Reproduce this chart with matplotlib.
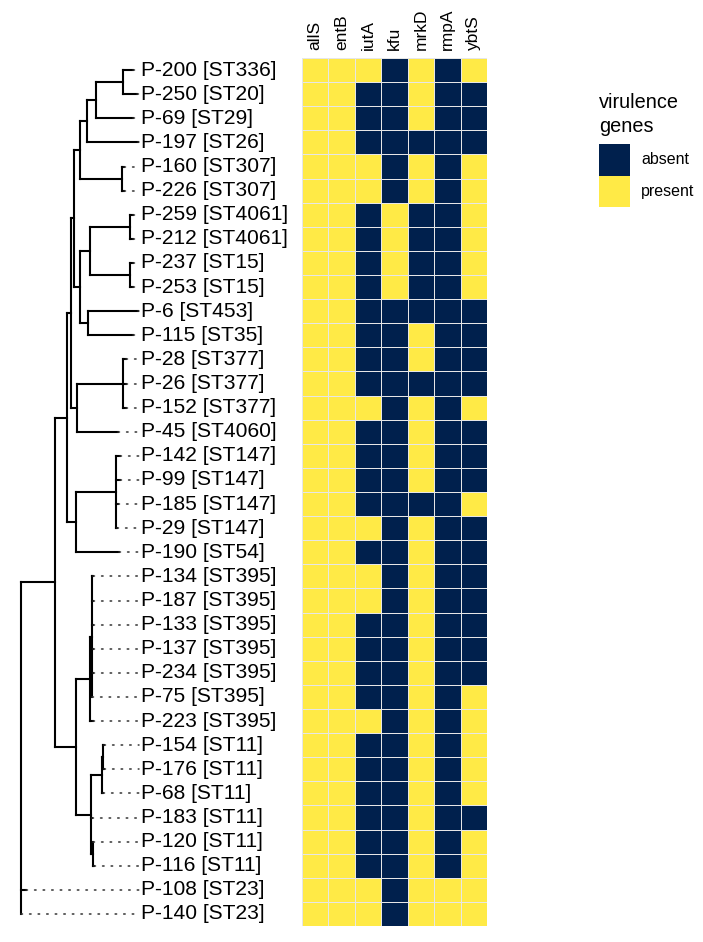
import matplotlib
matplotlib.use("Agg")
import matplotlib.pyplot as plt
import numpy as np
from matplotlib.collections import LineCollection
from matplotlib.colors import ListedColormap
from matplotlib.patches import Rectangle

plt.rcParams['font.family'] = ['Liberation Sans', 'DejaVu Sans']

# ---------------- data ----------------
# phylogeny (Newick, branch lengths in substitutions/site)
tree_newick = (
    "(((((((((P-200:0.0103,P-250:0.0143):0.0267,P-69:0.037):0.0093,P-197:0.0513):0.0067,"
    "(P-160:0.002,P-226:0.002):0.042):0.0057,"
    "(((P-259:0.003,P-212:0.003):0.040,(P-237:0.003,P-253:0.003):0.040):0.010,"
    "(P-6:0.0497,P-115:0.0447):0.0083):0.0057):0.0038,"
    "((P-28:0.003,P-26:0.003,P-152:0.003):0.046,P-45:0.041):0.0065):0.0035,"
    "((P-142:0.004,P-99:0.004,P-185:0.002,P-29:0.001):0.040,P-190:0.043):0.009):0.012,"
    "(((P-134:0.0015,P-187:0.0015,P-133:0.001,P-137:0.001,P-234:0.001,P-75:0.0005):0.0015,"
    "P-223:0.0025):0.0145,"
    "(((P-154:0.0015,P-176:0.0015):0.0008,P-68:0.0013):0.011,P-183:0.0013,"
    "(P-120:0.0005,P-116:0.001):0.0018):0.0152):0.0205):0.034,"
    "P-108:0.005,P-140:0.0005);"
)

isolates = ["P-200", "P-250", "P-69", "P-197", "P-160", "P-226", "P-259", "P-212",
            "P-237", "P-253", "P-6", "P-115", "P-28", "P-26", "P-152", "P-45",
            "P-142", "P-99", "P-185", "P-29", "P-190", "P-134", "P-187", "P-133",
            "P-137", "P-234", "P-75", "P-223", "P-154", "P-176", "P-68", "P-183",
            "P-120", "P-116", "P-108", "P-140"]
st_types = ["ST336", "ST20", "ST29", "ST26", "ST307", "ST307", "ST4061", "ST4061",
            "ST15", "ST15", "ST453", "ST35", "ST377", "ST377", "ST377", "ST4060",
            "ST147", "ST147", "ST147", "ST147", "ST54", "ST395", "ST395", "ST395",
            "ST395", "ST395", "ST395", "ST395", "ST11", "ST11", "ST11", "ST11",
            "ST11", "ST11", "ST23", "ST23"]

genes = ["allS", "entB", "iutA", "kfu", "mrkD", "rmpA", "ybtS"]
# 1 = present, 0 = absent (in isolate order above)
allS = [1] * 36
entB = [1] * 36
iutA = [1, 0, 0, 0, 1, 1, 0, 0, 0, 0, 0, 0, 0, 0, 1, 0, 0, 0, 0, 1, 0, 1, 1, 0,
        0, 0, 0, 1, 0, 0, 0, 0, 0, 0, 1, 1]
kfu = [0, 0, 0, 0, 0, 0, 1, 1, 1, 1, 0, 0, 0, 0, 0, 0, 0, 0, 0, 0, 0, 0, 0, 0,
       0, 0, 0, 0, 0, 0, 0, 0, 0, 0, 0, 0]
mrkD = [1, 1, 1, 0, 1, 1, 0, 0, 0, 0, 0, 1, 1, 0, 1, 1, 1, 1, 0, 1, 1, 1, 1, 1,
        1, 1, 1, 1, 1, 1, 1, 1, 1, 1, 1, 1]
rmpA = [0] * 34 + [1, 1]
ybtS = [1, 0, 0, 0, 1, 1, 1, 1, 1, 1, 0, 0, 0, 0, 1, 0, 0, 0, 1, 0, 0, 0, 0, 0,
        0, 0, 1, 1, 1, 1, 1, 0, 1, 1, 1, 1]
legend_title = ["virulence", "genes"]
legend_labels = ["absent", "present"]

# ---------------- styles ----------------
col_absent = "#00204D"
col_present = "#FFEA46"


def parse_newick(s):
    s = s.strip().rstrip(';')
    pos = 0

    def node():
        nonlocal pos
        n = {"children": [], "name": None, "length": 0.0}
        if s[pos] == '(':
            pos += 1
            while True:
                n["children"].append(node())
                if s[pos] == ',':
                    pos += 1
                else:
                    pos += 1
                    break
        start = pos
        while pos < len(s) and s[pos] not in ':,()':
            pos += 1
        n["name"] = s[start:pos] or None
        if pos < len(s) and s[pos] == ':':
            pos += 1
            start = pos
            while pos < len(s) and s[pos] not in ',()':
                pos += 1
            n["length"] = float(s[start:pos])
        return n
    return node()


root = parse_newick(tree_newick)
tips = []


def layout(n, x0):
    n["x"] = x0 + n["length"]
    if not n["children"]:
        tips.append(n)
        n["y"] = len(tips)
    else:
        for c in n["children"]:
            layout(c, n["x"])
        n["y"] = np.mean([c["y"] for c in n["children"]])


root["length"] = 0.0
layout(root, 0.0)

segs = []


def collect(n):
    if n["children"]:
        ys = [c["y"] for c in n["children"]]
        segs.append([(n["x"], min(ys)), (n["x"], max(ys))])
        for c in n["children"]:
            segs.append([(n["x"], c["y"]), (c["x"], c["y"])])
            collect(c)


collect(root)

n_tips = len(tips)
fig = plt.figure(figsize=(7.03, 9.42), dpi=100)
W, H = 703.0, 942.0
top_px, bot_px = 58.0, 926.0
ax_bottom = 1 - bot_px / H
ax_height = (bot_px - top_px) / H

# ---- tree ----
ax_t = fig.add_axes([0, ax_bottom, 300 / W, ax_height])
ax_t.add_collection(LineCollection(segs, colors="black", linewidths=1.5,
                                   capstyle="projecting"))
max_x = max(t["x"] for t in tips)
dot_end = max_x + 0.001
label_x = max_x + 0.0028
st_map = dict(zip(isolates, st_types))
for t in tips:
    if dot_end - t["x"] > 0.0005:
        ax_t.plot([t["x"], dot_end], [t["y"], t["y"]], color="#333333",
                  lw=1.1, linestyle=(0, (1, 4.6)), dash_capstyle="round")
    ax_t.text(label_x, t["y"], f"{t['name']} [{st_map[t['name']]}]",
              va="center", ha="left", fontsize=15.1)
ax_t.set_xlim(-0.021, 0.279)
ax_t.set_ylim(n_tips + 0.5, 0.5)
ax_t.axis("off")

# ---- heatmap ----
order = [t["name"] for t in tips]
idx = [isolates.index(nm) for nm in order]
mat = np.array([allS, entB, iutA, kfu, mrkD, rmpA, ybtS]).T[idx]
ax_h = fig.add_axes([302 / W, ax_bottom, 185 / W, ax_height])
cmap = ListedColormap([col_absent, col_present])
ax_h.pcolormesh(np.arange(len(genes) + 1), np.arange(n_tips + 1) + 0.5, mat,
                cmap=cmap, vmin=0, vmax=1, edgecolors="#e6e6e6", linewidth=0.6)
ax_h.set_xlim(0, len(genes))
ax_h.set_ylim(n_tips + 0.5, 0.5)
ax_h.xaxis.tick_top()
ax_h.set_xticks(np.arange(len(genes)) + 0.5)
ax_h.set_xticklabels(genes, rotation=90, fontsize=12.5)
ax_h.tick_params(axis="x", length=0, pad=6)
ax_h.set_yticks([])
for sp in ax_h.spines.values():
    sp.set_visible(False)

# ---- legend (manual) ----
ax_l = fig.add_axes([599 / W, 1 - 207 / H, 31 / W, 63 / H])
ax_l.set_xlim(0, 1)
ax_l.set_ylim(2, 0)
ax_l.axis("off")
for i, (lab, col) in enumerate(zip(legend_labels, [col_absent, col_present])):
    ax_l.add_patch(Rectangle((0, i), 1, 1, facecolor=col, edgecolor="none"))
    ax_l.text(1 + 11 / 31, i + 0.5, lab, va="center", ha="left", fontsize=11.5)
fig.text(599 / W, 1 - 108 / H, legend_title[0], fontsize=14.3, va="baseline", ha="left")
fig.text(599 / W, 1 - 132 / H, legend_title[1], fontsize=14.3, va="baseline", ha="left")

fig.savefig("out.png", dpi=100)
